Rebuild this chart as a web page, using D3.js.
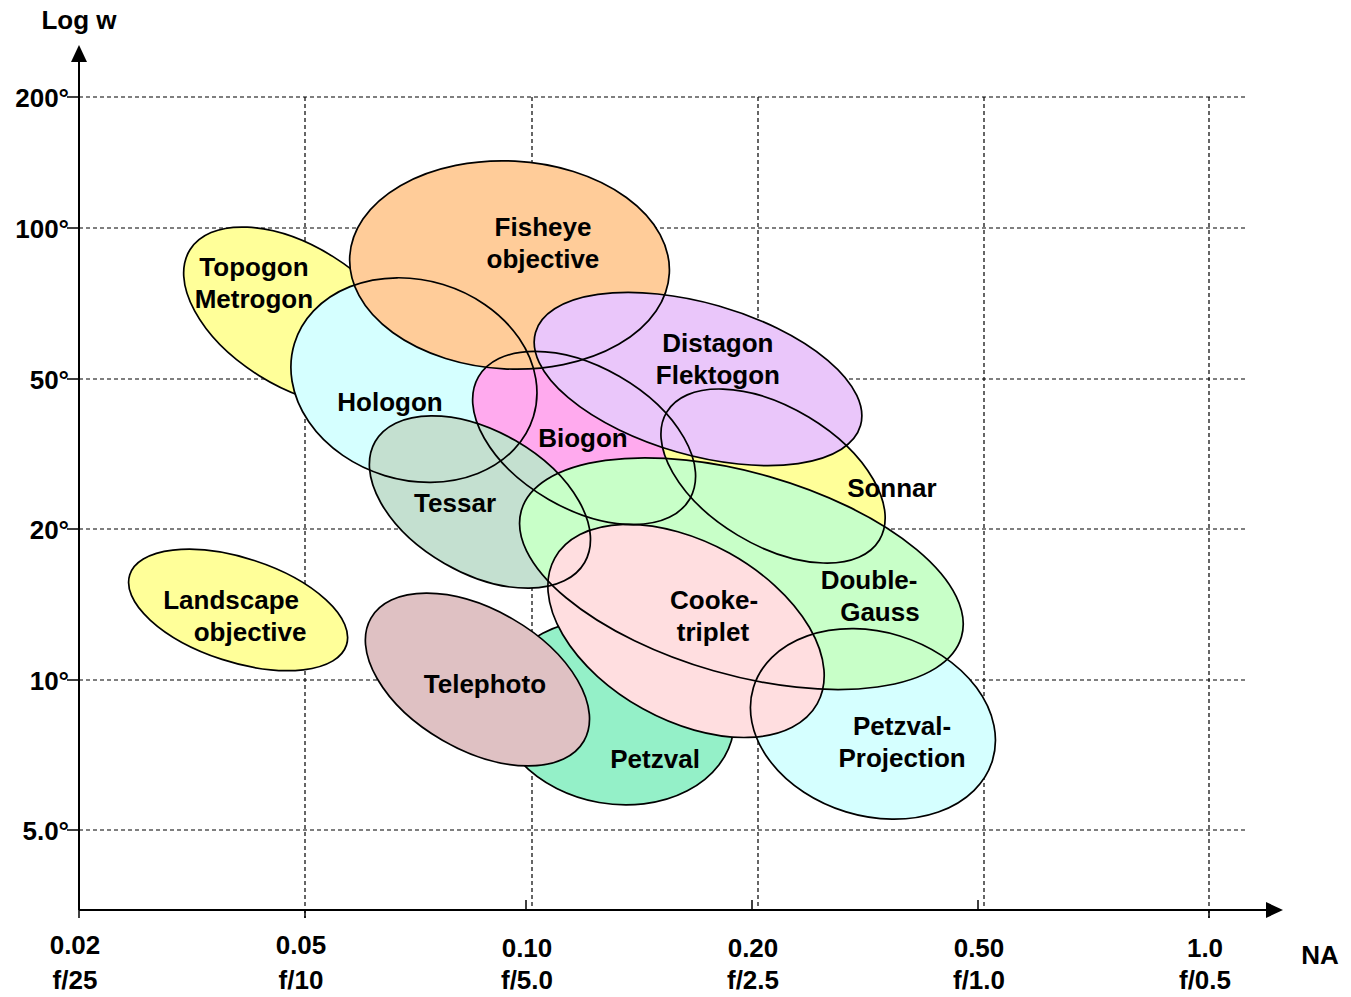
<!DOCTYPE html>
<html>
<head>
<meta charset="utf-8">
<script src="https://cdn.jsdelivr.net/npm/d3@7"></script>
<style>
  body { margin: 0; background: #fff; }
  text { font-family: "Liberation Sans", Arial, Helvetica, sans-serif; font-weight: bold; font-size: 26px; fill: #000; }
</style>
</head>
<body>
<svg id="chart" width="1351" height="997"></svg>
<script>
// ---------- data ----------
const naTicks = ["0.02", "0.05", "0.10", "0.20", "0.50", "1.0"];
const fTicks  = ["f/25", "f/10", "f/5.0", "f/2.5", "f/1.0", "f/0.5"];
const wTicks  = ["5.0°", "10°", "20°", "50°", "100°", "200°"];

// lens families, in drawing order (back to front)
const lensNames = ["Landscape", "Topogon", "Petzval", "Telephoto", "Hologon", "Biogon", "Fisheye", "Sonnar",
                   "Distagon", "Tessar", "Petzval-Projection", "Double-Gauss", "Cooke-triplet"];
// families whose outline is hidden beneath the fields drawn over them
const solidLayer = ["Landscape", "Topogon", "Petzval", "Telephoto"];
// centre of each field, in axis-tick units (NA tick index, field-angle tick index)
const centerNA = [0.704, 0.960, 2.372, 1.763, 1.482, 2.235, 1.905, 3.071, 2.739, 1.774, 3.513, 2.931, 2.686];
const centerW  = [1.464, 3.417, 0.787, 1.003, 2.993, 2.607, 3.755, 2.353, 3.000, 2.180, 0.707, 1.704, 1.325];
// semi axes (in NA tick units) and tilt in degrees
const semiMajor = [0.504, 0.553, 0.531, 0.544, 0.553, 0.540, 0.708, 0.549, 0.748, 0.535, 0.553, 1.013, 0.664];
const semiMinor = [0.230, 0.310, 0.407, 0.310, 0.442, 0.314, 0.460, 0.305, 0.336, 0.314, 0.407, 0.447, 0.394];
const tilt      = [18, 32, 10, 30, 17, 30, 3, 31, 16, 30, 17, 16, 29];
const fillColors = ["#FFFF99", "#FFFF99", "#94F0C8", "#DFC1C3", "#D5FFFF", "#FFAAEE", "#FFCC99", "#FFFF99",
                    "#EAC6FA", "#C4E0D0", "#D5FFFF", "#C8FFC8", "#FFDEE0"];
// labels
const labelLines = [["Landscape", "objective"], ["Topogon", "Metrogon"], ["Petzval"], ["Telephoto"],
                    ["Hologon"], ["Biogon"], ["Fisheye", "objective"], ["Sonnar"], ["Distagon", "Flektogon"],
                    ["Tessar"], ["Petzval-", "Projection"], ["Double-", "Gauss"], ["Cooke-", "triplet"]];
const labelNA = [[0.673, 0.757], [0.774, 0.774], [2.549], [1.796], [1.376], [2.230], [2.053, 2.053], [3.597],
                 [2.827, 2.827], [1.664], [3.642, 3.642], [3.496, 3.544], [2.810, 2.805]];
const labelW  = [1.424, 3.636, 0.480, 0.980, 2.853, 2.607, 3.907, 2.280, 3.139, 2.180, 0.587, 1.560, 1.430];

// ---------- layout ----------
const svg = d3.select("#chart");
const x = d3.scaleLinear().domain([0, 5]).range([79, 1209]);
const y = d3.scaleLinear().domain([0, 1, 2, 3, 4, 5]).range([830, 680, 529, 379, 228, 97]);
const axisY = 910, gridRight = 1248, lineH = 32, baseShift = 9.5;
const unit = x(1) - x(0);

// grid
const grid = svg.append("g").attr("stroke", "#000").attr("stroke-width", 1.2).attr("stroke-dasharray", "4,3");
grid.selectAll("line.h").data(d3.range(wTicks.length)).join("line").attr("class", "h")
  .attr("x1", x(0)).attr("x2", gridRight).attr("y1", d => y(d)).attr("y2", d => y(d));
grid.selectAll("line.v").data(d3.range(1, naTicks.length)).join("line").attr("class", "v")
  .attr("x1", d => x(d) + (d >= 2 && d <= 4 ? 1 : 0)).attr("x2", d => x(d) + (d >= 2 && d <= 4 ? 1 : 0))
  .attr("y1", y(5)).attr("y2", d => (d === 1 || d === 5) ? axisY + 8 : axisY);

const idx = d3.range(lensNames.length);
const isSolid = i => solidLayer.includes(lensNames[i]);
const tr = i => `translate(${x(centerNA[i])},${y(centerW[i])}) rotate(${tilt[i]})`;
const drawEll = (g, list, fill, stroke) => g.selectAll("ellipse").data(list).join("ellipse")
  .attr("transform", tr).attr("rx", i => semiMajor[i] * unit).attr("ry", i => semiMinor[i] * unit)
  .attr("fill", fill).attr("stroke", stroke).attr("stroke-width", 1.7);

// bottom layer: filled and outlined together
drawEll(svg.append("g"), idx.filter(isSolid), i => fillColors[i], "#000");
// upper layer: fills first
const upper = idx.filter(i => !isSolid(i));
drawEll(svg.append("g"), upper, i => fillColors[i], "none");

// labels
const lab = svg.append("g").attr("text-anchor", "middle");
idx.forEach(i => {
  const n = labelLines[i].length;
  labelLines[i].forEach((t, j) => {
    lab.append("text").attr("x", x(labelNA[i][j]))
      .attr("y", y(labelW[i]) + (j - (n - 1) / 2) * lineH + baseShift).text(t);
  });
});

// upper layer outlines drawn over everything
drawEll(svg.append("g"), upper, "none", "#000");

// axes
const ax = svg.append("g").attr("stroke", "#000").attr("stroke-width", 2);
ax.append("line").attr("x1", x(0)).attr("x2", x(0)).attr("y1", axisY).attr("y2", 60);
ax.append("line").attr("x1", x(0)).attr("x2", 1268).attr("y1", axisY).attr("y2", axisY);
svg.append("path").attr("d", `M${x(0)},45 L${x(0) - 8},62 L${x(0) + 8},62 Z`).attr("fill", "#000");
svg.append("path").attr("d", `M1283,${axisY} L1266,${axisY - 8} L1266,${axisY + 8} Z`).attr("fill", "#000");

// y ticks + labels
ax.selectAll("line.yt").data(d3.range(wTicks.length)).join("line").attr("class", "yt")
  .attr("x1", x(0) - 12).attr("x2", x(0)).attr("y1", d => y(d)).attr("y2", d => y(d)).attr("stroke-width", 1.5);
svg.append("g").attr("text-anchor", "end").selectAll("text").data(wTicks).join("text")
  .attr("x", x(0) - 10).attr("y", (d, i) => y(i) + baseShift).text(d => d);

// x ticks
ax.selectAll("line.xt").data(d3.range(naTicks.length)).join("line").attr("class", "xt")
  .attr("stroke-width", 1.5)
  .attr("x1", d => (d >= 2 && d <= 4) ? x(d) - 5 : x(d)).attr("x2", d => (d >= 2 && d <= 4) ? x(d) - 5 : x(d))
  .attr("y1", d => (d >= 2 && d <= 4) ? axisY - 10 : axisY).attr("y2", d => (d >= 2 && d <= 4) ? axisY : axisY + 8);
const xl = svg.append("g").attr("text-anchor", "middle");
xl.selectAll("text.na").data(naTicks).join("text").attr("class", "na")
  .attr("x", (d, i) => x(i) - 4).attr("y", (d, i) => (i === 0 || i === 1) ? 954 : 957).text(d => d);
xl.selectAll("text.f").data(fTicks).join("text").attr("class", "f")
  .attr("x", (d, i) => x(i) - 4).attr("y", 989).text(d => d);

// axis titles
svg.append("text").attr("x", x(0)).attr("y", 29).attr("text-anchor", "middle").text("Log w");
svg.append("text").attr("x", 1320).attr("y", 964).attr("text-anchor", "middle").text("NA");
</script>
</body>
</html>
